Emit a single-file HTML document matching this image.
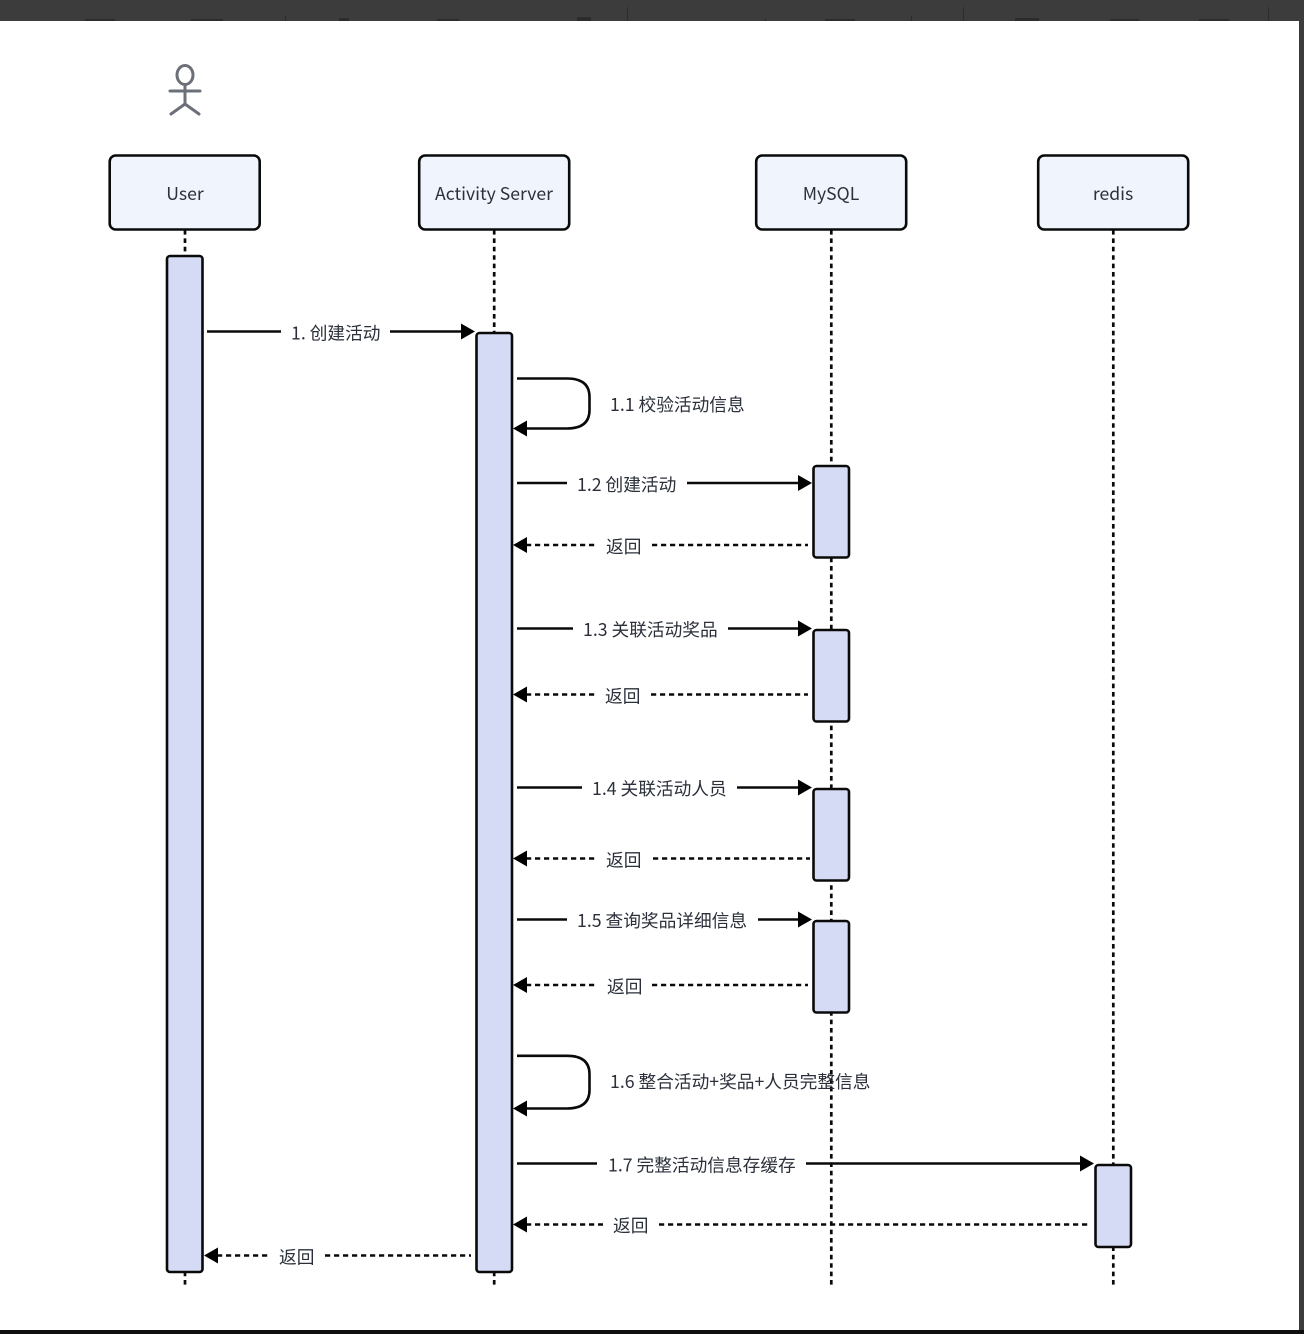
<!DOCTYPE html>
<html>
<head>
<meta charset="utf-8">
<style>
html,body{margin:0;padding:0;width:1304px;height:1334px;overflow:hidden;background:#3c3c3c}
svg{display:block}
.n{font-family:"Noto Sans CJK SC","Liberation Sans",sans-serif;font-size:17.6px;text-anchor:middle;fill:#2b303a}
.l{font-family:"Noto Sans CJK SC","Liberation Sans",sans-serif;font-size:17.7px;fill:#2b303a}
.head{fill:#eff4fd;stroke:#0a0a0a;stroke-width:2.6}
.act{fill:#d5dbf4;stroke:#0a0a0a;stroke-width:2.6}
.life{stroke:#0a0a0a;stroke-width:2.7;stroke-dasharray:4.6 3.8;fill:none}
.solid{stroke:#0a0a0a;stroke-width:2.6;fill:none}
.dash{stroke:#0a0a0a;stroke-width:2.6;stroke-dasharray:5.2 3.8;fill:none}
.ah{fill:#000}
</style>
</head>
<body>
<svg width="1304" height="1334" viewBox="0 0 1304 1334" xmlns="http://www.w3.org/2000/svg">
<rect x="0" y="0" width="1304" height="1334" fill="#3c3c3c"/>
<g fill="#2c2c2c">
<rect x="85" y="19" width="30" height="2"/><rect x="191" y="19" width="32" height="2"/>
<rect x="285" y="16" width="1" height="5"/><rect x="339" y="18" width="10" height="3"/>
<rect x="437" y="19" width="22" height="2"/><rect x="577" y="17" width="14" height="4"/>
<rect x="627" y="7" width="1" height="14"/><rect x="765" y="18" width="1" height="3"/>
<rect x="825" y="19" width="30" height="2"/><rect x="911" y="16" width="1" height="5"/>
<rect x="963" y="7" width="1" height="14"/><rect x="1015" y="18" width="24" height="3"/>
<rect x="1110" y="19" width="29" height="2"/><rect x="1199" y="19" width="30" height="2"/>
<rect x="1268" y="7" width="1" height="14"/>
</g>
<rect x="0" y="21" width="1299" height="1309" fill="#ffffff"/>
<rect x="0" y="1330" width="1304" height="4" fill="#0f0f0f"/>

<!-- actor -->
<g stroke="#6b7078" stroke-width="3" fill="none" stroke-linecap="round">
<ellipse cx="185" cy="75" rx="8" ry="9.500"/>
<line x1="185" y1="85" x2="185" y2="103"/>
<line x1="170" y1="91" x2="200" y2="91"/>
<line x1="185" y1="104" x2="171" y2="114"/>
<line x1="185" y1="104" x2="199" y2="114"/>
</g>

<!-- lifelines -->
<line class="life" x1="185" y1="230" x2="185" y2="1286"/>
<line class="life" x1="494.200" y1="230" x2="494.200" y2="1286"/>
<line class="life" x1="831.300" y1="230" x2="831.300" y2="1286"/>
<line class="life" x1="1113.300" y1="230" x2="1113.300" y2="1286"/>

<!-- heads -->
<rect class="head" x="109.700" y="155.500" width="150" height="74" rx="6"/>
<rect class="head" x="419.200" y="155.500" width="150" height="74" rx="6"/>
<rect class="head" x="756.200" y="155.500" width="150" height="74" rx="6"/>
<rect class="head" x="1038.200" y="155.500" width="150" height="74" rx="6"/>
<text class="n" x="185" y="200">User</text>
<text class="n" x="494" y="200">Activity Server</text>
<text class="n" x="831" y="200">MySQL</text>
<text class="n" x="1113" y="200">redis</text>

<!-- activations -->
<rect class="act" x="167" y="256" width="35.500" height="1016" rx="3"/>
<rect class="act" x="476.500" y="333" width="35.500" height="939" rx="3"/>
<rect class="act" x="813.500" y="466" width="35.500" height="91.500" rx="3"/>
<rect class="act" x="813.500" y="630" width="35.500" height="91.500" rx="3"/>
<rect class="act" x="813.500" y="789" width="35.500" height="91.500" rx="3"/>
<rect class="act" x="813.500" y="921" width="35.500" height="91.500" rx="3"/>
<rect class="act" x="1095.500" y="1165" width="35.500" height="82" rx="3"/>

<!-- 1 -->
<path class="solid" d="M207 331.500H281M390 331.500H462"/>
<path class="ah" d="M461 323.500L475 331.500L461 339.500Z"/>
<text class="l" x="291" y="339.500">1. 创建活动</text>

<!-- 1.1 -->
<path class="solid" d="M517 378.500H567Q589.500 378.500 589.500 397V410Q589.500 428.500 567 428.500H524"/>
<path class="ah" d="M527 420.500L513 428.500L527 436.500Z"/>
<text class="l" x="610" y="410.800">1.1 校验活动信息</text>

<!-- 1.2 -->
<path class="solid" d="M517 483H567M687 483H800"/>
<path class="ah" d="M798 475L812 483L798 491Z"/>
<text class="l" x="577" y="491">1.2 创建活动</text>

<path class="dash" d="M526 545H596M652 545H808"/>
<path class="ah" d="M527 537L513 545L527 553Z"/>
<text class="l" x="606" y="552.800">返回</text>

<!-- 1.3 -->
<path class="solid" d="M517 628.500H573M728 628.500H800"/>
<path class="ah" d="M798 620.500L812 628.500L798 636.500Z"/>
<text class="l" x="583" y="636">1.3 关联活动奖品</text>

<path class="dash" d="M526 694.500H595M651 694.500H808"/>
<path class="ah" d="M527 686.500L513 694.500L527 702.500Z"/>
<text class="l" x="605" y="702.300">返回</text>

<!-- 1.4 -->
<path class="solid" d="M517 787.500H582M737 787.500H800"/>
<path class="ah" d="M798 779.500L812 787.500L798 795.500Z"/>
<text class="l" x="592" y="795">1.4 关联活动人员</text>

<path class="dash" d="M526 858.500H596M653 858.500H810"/>
<path class="ah" d="M527 850.500L513 858.500L527 866.500Z"/>
<text class="l" x="606" y="866.300">返回</text>

<!-- 1.5 -->
<path class="solid" d="M517 919.500H567M758 919.500H800"/>
<path class="ah" d="M798 911.500L812 919.500L798 927.500Z"/>
<text class="l" x="577" y="927">1.5 查询奖品详细信息</text>

<path class="dash" d="M526 985H597M652 985H808"/>
<path class="ah" d="M527 977L513 985L527 993Z"/>
<text class="l" x="607" y="992.800">返回</text>

<!-- 1.6 -->
<path class="solid" d="M517 1055.800H567Q589.500 1055.800 589.500 1074V1090Q589.500 1108.500 567 1108.500H524"/>
<path class="ah" d="M527 1100.500L513 1108.500L527 1116.500Z"/>
<text class="l" x="610" y="1087.800">1.6 整合活动+奖品+人员完整信息</text>

<!-- 1.7 -->
<path class="solid" d="M517 1163.500H597M806 1163.500H1082"/>
<path class="ah" d="M1080 1155.500L1094 1163.500L1080 1171.500Z"/>
<text class="l" x="608" y="1171.300">1.7 完整活动信息存缓存</text>

<path class="dash" d="M526 1224.500H603M659 1224.500H1090"/>
<path class="ah" d="M527 1216.500L513 1224.500L527 1232.500Z"/>
<text class="l" x="613" y="1231.800">返回</text>

<!-- return to user -->
<path class="dash" d="M217 1255.500H269M325 1255.500H471"/>
<path class="ah" d="M218 1247.500L204 1255.500L218 1263.500Z"/>
<text class="l" x="279" y="1263.300">返回</text>
</svg>
</body>
</html>
